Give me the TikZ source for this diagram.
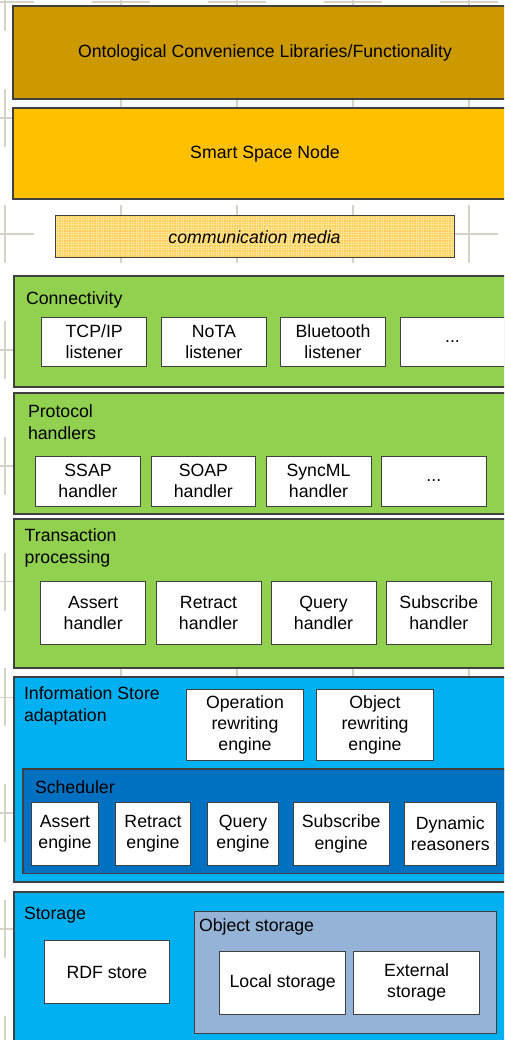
\documentclass[tikz,border=0pt]{standalone}
\usepackage{fontspec}
\setmainfont{Liberation Sans}

\definecolor{gridmark}{RGB}{214,210,198}
\definecolor{edgegray}{RGB}{64,64,64}
\definecolor{ontogold}{RGB}{204,153,0}
\definecolor{ssnamber}{RGB}{255,192,0}
\definecolor{mediayellow}{RGB}{255,200,55}
\definecolor{meshline}{RGB}{255,230,160}
\definecolor{stackgreen}{RGB}{146,208,80}
\definecolor{storeblue}{RGB}{0,176,240}
\definecolor{schedblue}{RGB}{0,112,192}
\definecolor{objblue}{RGB}{149,179,215}

\begin{document}
\begin{tikzpicture}[x=1pt,y=-1pt,
  every node/.style={font=\fontsize{17.7}{21.2}\selectfont, inner sep=0pt, outer sep=0pt},
  layer/.style={draw=edgegray, line width=1.4pt, anchor=north west, align=center},
  item/.style={draw=edgegray, line width=1pt, fill=white, anchor=north west, align=center},
  caption/.style={anchor=north west, align=left}]
\useasboundingbox (0,0) rectangle (504,1040);
\clip (0,0) rectangle (504,1040);
\fill[white] (0,0) rectangle (504,1040);

% registration crosses behind the layers
\foreach \cx in {5,121,237,353,469}
  \foreach \cy in {2,117.9,233.8,349.7,465.6,581.5,697.4,813.3,929.2,1045.1}
    \draw[gridmark, line width=1.8pt] (\cx-29,\cy) -- (\cx+29,\cy) (\cx,\cy-29) -- (\cx,\cy+29);

% upper layers
\node[layer, fill=ontogold, minimum width=504, minimum height=93] (onto) at (13,6)
  {Ontological Convenience Libraries/Functionality};
\node[layer, fill=ssnamber, minimum width=504, minimum height=91] (ssn) at (13,108)
  {Smart Space Node};

% communication media band: translucent yellow with a fine mesh
\begin{scope}
  \clip (55,216) rectangle (454,258);
  \fill[mediayellow, fill opacity=0.88] (55,216) rectangle (454,258);
  \foreach \mx in {56,58.5,...,454}
    \draw[meshline, line width=0.55pt, opacity=0.8] (\mx,216) -- (\mx,258);
  \foreach \my in {217,219.5,...,258}
    \draw[meshline, line width=0.55pt, opacity=0.8] (55,\my) -- (454,\my);
\end{scope}
\node[layer, line width=1pt, minimum width=399, minimum height=42, font=\fontsize{17.7}{21.2}\selectfont\itshape] (media) at (55,216)
  {communication media};

% connectivity
\node[layer, fill=stackgreen, minimum width=503, minimum height=111] (conn) at (14,276) {};
\node[caption] (connlbl) at (26,292) {Connectivity};
\node[item, minimum width=105, minimum height=48.6] (tcp) at (41.7,317.7) {TCP/IP\\listener};
\node[item, minimum width=104.3, minimum height=48.6] (nota) at (161.7,317.7) {NoTA\\listener};
\node[item, minimum width=104.6, minimum height=48.6] (bt) at (280.7,317.7) {Bluetooth\\listener};
\node[item, minimum width=105, minimum height=48.6] (moreconn) at (400,317.7) {...};

% protocol handlers
\node[layer, fill=stackgreen, minimum width=503, minimum height=121] (proto) at (14,393) {};
\node[caption] (protolbl) at (28,405) {Protocol\\handlers};
\node[item, minimum width=104.6, minimum height=50] (ssap) at (35.7,456) {SSAP\\handler};
\node[item, minimum width=104.7, minimum height=50] (soap) at (151,456) {SOAP\\handler};
\node[item, minimum width=105, minimum height=50] (syncml) at (266,456) {SyncML\\handler};
\node[item, minimum width=104.3, minimum height=50] (moreproto) at (381.7,456) {...};

% transaction processing
\node[layer, fill=stackgreen, minimum width=503, minimum height=149] (trans) at (14,519) {};
\node[caption] (translbl) at (24.7,529) {Transaction\\processing};
\node[item, minimum width=105, minimum height=62.6] (asserth) at (40.7,581.7) {Assert\\handler};
\node[item, minimum width=105, minimum height=62.6] (retracth) at (156,581.7) {Retract\\handler};
\node[item, minimum width=105, minimum height=62.6] (queryh) at (271,581.7) {Query\\handler};
\node[item, minimum width=105, minimum height=62.6] (subh) at (386.3,581.7) {Subscribe\\handler};

% information store adaptation
\node[layer, fill=storeblue, minimum width=503, minimum height=205] (info) at (14,677) {};
\node[caption] (infolbl) at (24,687) {Information Store\\adaptation};
\node[item, minimum width=117.4, minimum height=71.4] (oprw) at (186.3,689.3) {Operation\\rewriting\\engine};
\node[item, minimum width=117.4, minimum height=71.4] (objrw) at (316.3,689.3) {Object\\rewriting\\engine};
\node[layer, fill=schedblue, minimum width=490, minimum height=104.3] (sched) at (23,769) {};
\node[caption] (schedlbl) at (35,781) {Scheduler};
\node[item, minimum width=67.4, minimum height=62.3] (asserte) at (31.3,802.7) {Assert\\engine};
\node[item, minimum width=75.4, minimum height=62.3] (retracte) at (115.3,802.7) {Retract\\engine};
\node[item, minimum width=71.4, minimum height=62.3] (querye) at (207.3,802.7) {Query\\engine};
\node[item, minimum width=96.3, minimum height=62.3] (sube) at (293,802.7) {Subscribe\\engine};
\node[item, minimum width=92, minimum height=62.3] (dyn) at (404.3,802.7) {Dynamic\\reasoners};

% storage
\node[layer, fill=storeblue, minimum width=503, minimum height=160] (storage) at (14,892) {};
\node[caption] (storagelbl) at (24,907) {Storage};
\node[item, minimum width=125.7, minimum height=63] (rdf) at (44,940.7) {RDF store};
\node[layer, line width=1pt, fill=objblue, minimum width=302, minimum height=121.6] (objstore) at (194.7,911.7) {};
\node[caption] (objlbl) at (199,919) {Object storage};
\node[item, minimum width=126, minimum height=63] (local) at (219.7,951.3) {Local storage};
\node[item, minimum width=126, minimum height=63] (ext) at (353.7,951.3) {External\\storage};
\end{tikzpicture}
\end{document}
